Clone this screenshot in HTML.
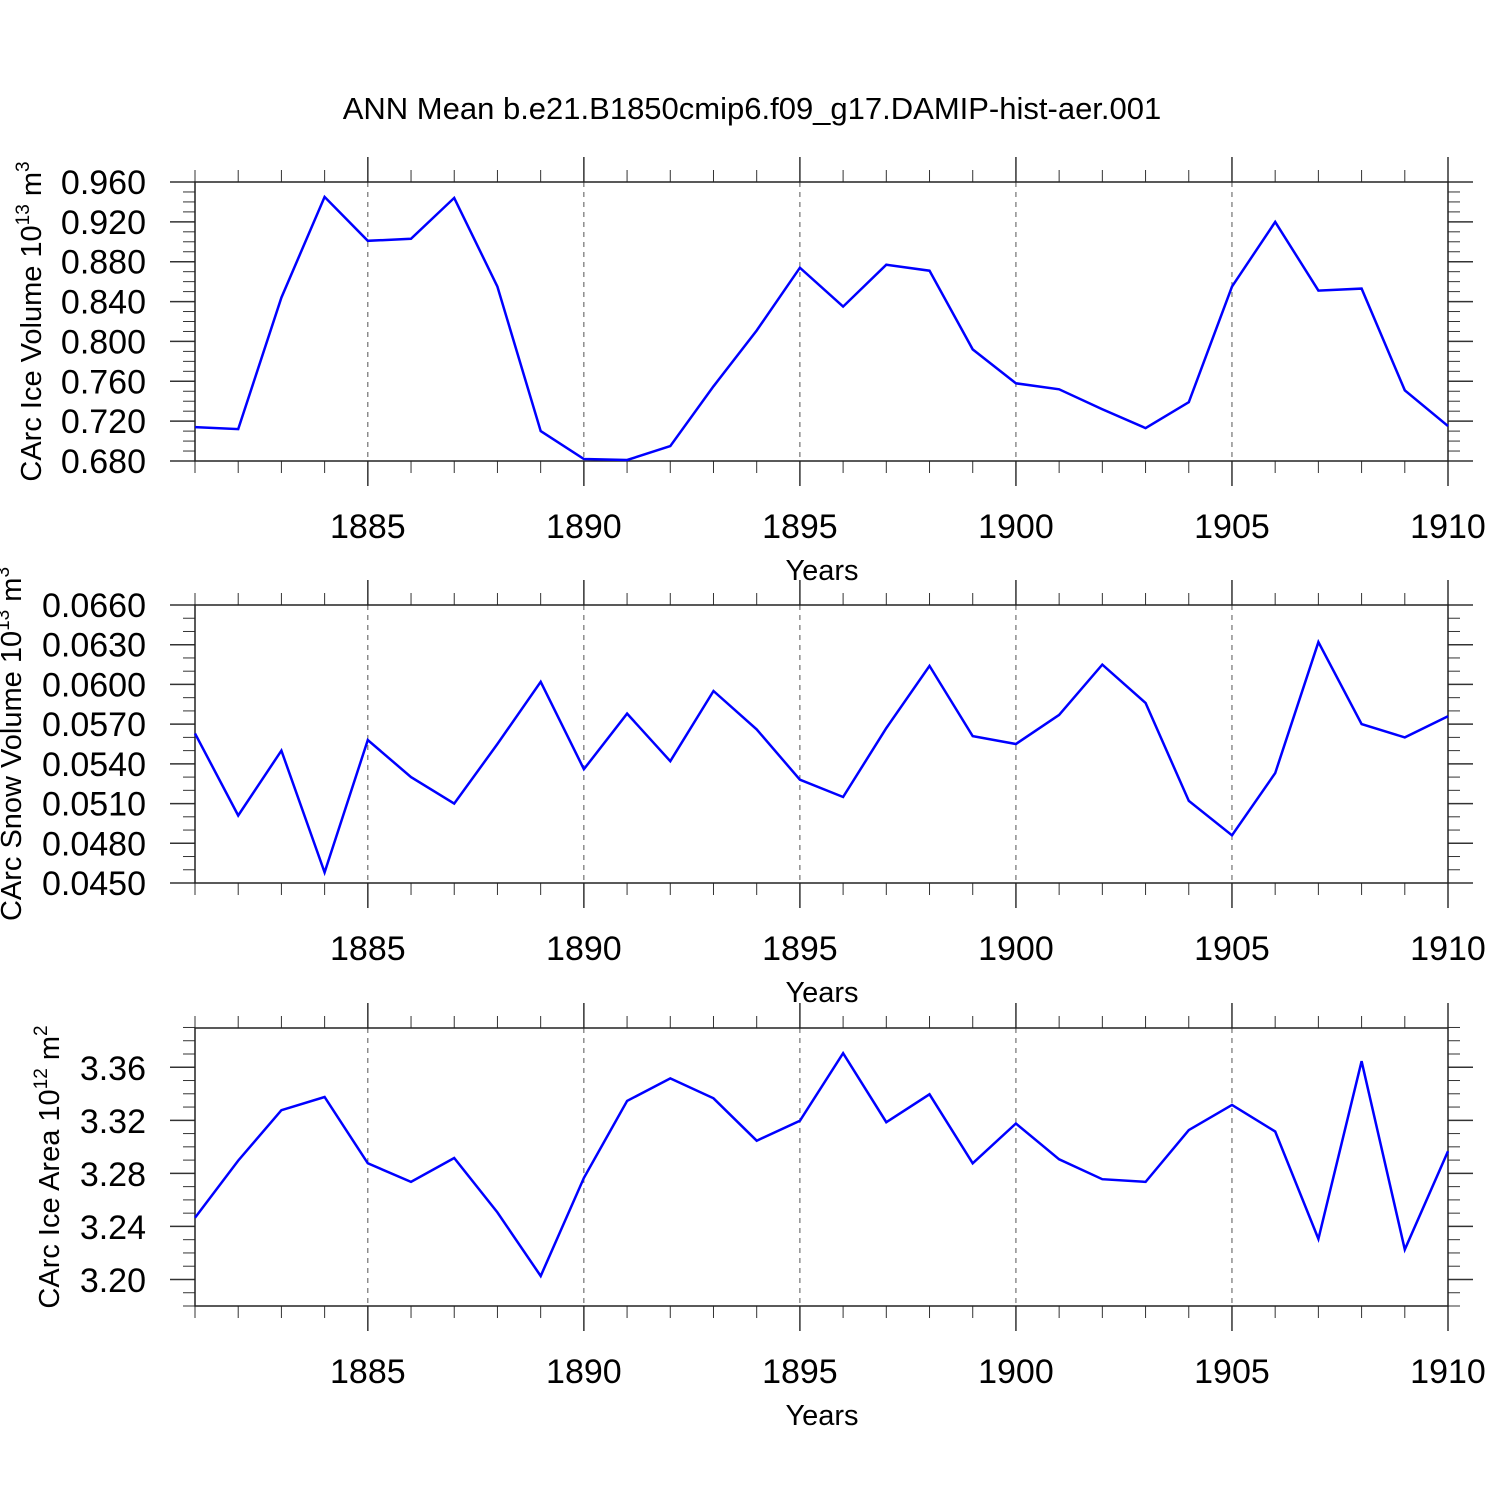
<!DOCTYPE html>
<html><head><meta charset="utf-8"><style>
html,body{margin:0;padding:0;background:#fff;}
svg{display:block;font-family:"Liberation Sans",sans-serif;}
</style></head><body>
<svg id="fig" width="1500" height="1500" viewBox="0 0 1500 1500" xmlns="http://www.w3.org/2000/svg">
<rect width="1500" height="1500" fill="#fff"/>
<text x="752" y="119" font-size="31" text-anchor="middle">ANN Mean b.e21.B1850cmip6.f09_g17.DAMIP-hist-aer.001</text>
</svg>
<script>
const years = [1881,1882,1883,1884,1885,1886,1887,1888,1889,1890,1891,1892,1893,1894,1895,1896,1897,1898,1899,1900,1901,1902,1903,1904,1905,1906,1907,1908,1909,1910];
const iceVolume = [0.714,0.712,0.844,0.945,0.901,0.903,0.944,0.855,0.710,0.682,0.681,0.695,0.755,0.811,0.874,0.835,0.877,0.871,0.792,0.758,0.752,0.732,0.713,0.739,0.855,0.920,0.851,0.853,0.751,0.715];
const snowVolume = [0.0563,0.0501,0.0550,0.0458,0.0558,0.0530,0.0510,0.0555,0.0602,0.0536,0.0578,0.0542,0.0595,0.0566,0.0528,0.0515,0.0567,0.0614,0.0561,0.0555,0.0577,0.0615,0.0586,0.0512,0.0486,0.0533,0.0632,0.0570,0.0560,0.0576];
const iceArea = [3.247,3.290,3.328,3.338,3.288,3.274,3.292,3.251,3.203,3.277,3.335,3.352,3.337,3.305,3.320,3.371,3.319,3.340,3.288,3.318,3.291,3.276,3.274,3.313,3.332,3.312,3.231,3.365,3.223,3.297];
const xTickLabels = [1885,1890,1895,1900,1905,1910];
const iceVolumeTicks = ["0.680","0.720","0.760","0.800","0.840","0.880","0.920","0.960"];
const snowVolumeTicks = ["0.0450","0.0480","0.0510","0.0540","0.0570","0.0600","0.0630","0.0660"];
const iceAreaTicks = ["3.20","3.24","3.28","3.32","3.36"];

const NS="http://www.w3.org/2000/svg";
const svg=document.getElementById('fig');
function mk(tag,attrs,parent){const e=document.createElementNS(NS,tag);for(const k in attrs)e.setAttribute(k,attrs[k]);(parent||svg).appendChild(e);return e;}

const X0=195,X1=1448,xmin=1881,xmax=1910;
function xs(v){return X0+(v-xmin)/(xmax-xmin)*(X1-X0);}

function panel(cfg){
  const g=mk('g',{});
  
  
  const T=cfg.top,B=cfg.bottom;
  const ys=v=>B-(v-cfg.ymin)/(cfg.ymax-cfg.ymin)*(B-T);
  xTickLabels.forEach(yr=>{ if(yr<xmax){const l=mk('line',{x1:xs(yr),x2:xs(yr),y1:T,y2:B,stroke:'#555','stroke-width':1,'stroke-dasharray':'5,5'},g);
    }});
  for(let yr=xmin;yr<=xmax;yr++){
    const maj=yr%5===0, len=maj?25:12, x=xs(yr);
    mk('line',{x1:x,x2:x,y1:T,y2:T-len,stroke:'#333','stroke-width':maj?1.5:1},g);
    mk('line',{x1:x,x2:x,y1:B,y2:B+len,stroke:'#333','stroke-width':maj?1.5:1},g);
  }
  xTickLabels.forEach(yr=>{const t=mk('text',{x:xs(yr),y:B+77,'font-size':34,'text-anchor':'middle'},g);t.textContent=yr;
    });
  const n=Math.round((cfg.ymax-cfg.ymin)/cfg.minor);
  for(let i=0;i<=n;i++){
    const v=cfg.ymin+i*cfg.minor, y=ys(v);
    const maj=cfg.ticks.some(s=>Math.abs(parseFloat(s)-v)<cfg.minor*0.1);
    const len=maj?25:12;
    mk('line',{x1:X0,x2:X0-len,y1:y,y2:y,stroke:'#333','stroke-width':maj?1.5:1},g);
    mk('line',{x1:X1,x2:X1+len,y1:y,y2:y,stroke:'#333','stroke-width':maj?1.5:1},g);
  }
  cfg.ticks.forEach(s=>{const t=mk('text',{x:146,y:ys(parseFloat(s))+12,'font-size':34,'text-anchor':'end'},g);t.textContent=s;
    });
  const box=mk('rect',{x:X0,y:T,width:X1-X0,height:B-T,fill:'none',stroke:'#222','stroke-width':1.5},g);
  
  const pts=cfg.data.map((v,i)=>xs(years[i]).toFixed(1)+','+ys(v).toFixed(1)).join(' ');
  const pl=mk('polyline',{points:pts,fill:'none',stroke:'#0000ff','stroke-width':2.5,'stroke-linejoin':'miter'},g);
  
  const xt=mk('text',{x:822,y:B+119,'font-size':29,'text-anchor':'middle'},g);xt.textContent='Years';
  
  const yt=mk('text',{x:0,y:0,'font-size':29,'text-anchor':'middle',transform:'translate('+cfg.ytx+','+((T+B)/2)+') rotate(-90)'},g);
  
  const a=mk('tspan',{},yt);a.textContent=cfg.label+' 10';
  const s1=mk('tspan',{dy:-12,'font-size':19},yt);s1.textContent=cfg.exp;
  const b=mk('tspan',{dy:12},yt);b.textContent=' m';
  const s2=mk('tspan',{dy:-12,'font-size':19},yt);s2.textContent=cfg.unitExp;
}
panel({name:'ice-volume-panel',top:182,bottom:461,ymin:0.68,ymax:0.96,minor:0.01,ticks:iceVolumeTicks,data:iceVolume,label:'CArc Ice Volume',exp:'13',unitExp:'3',ytx:41});
panel({name:'snow-volume-panel',top:605,bottom:883,ymin:0.045,ymax:0.066,minor:0.001,ticks:snowVolumeTicks,data:snowVolume,label:'CArc Snow Volume',exp:'13',unitExp:'3',ytx:21});
panel({name:'ice-area-panel',top:1028,bottom:1306,ymin:3.1804,ymax:3.39,minor:0.01,ticks:iceAreaTicks,data:iceArea,label:'CArc Ice Area',exp:'12',unitExp:'2',ytx:59});
</script>
</body></html>
